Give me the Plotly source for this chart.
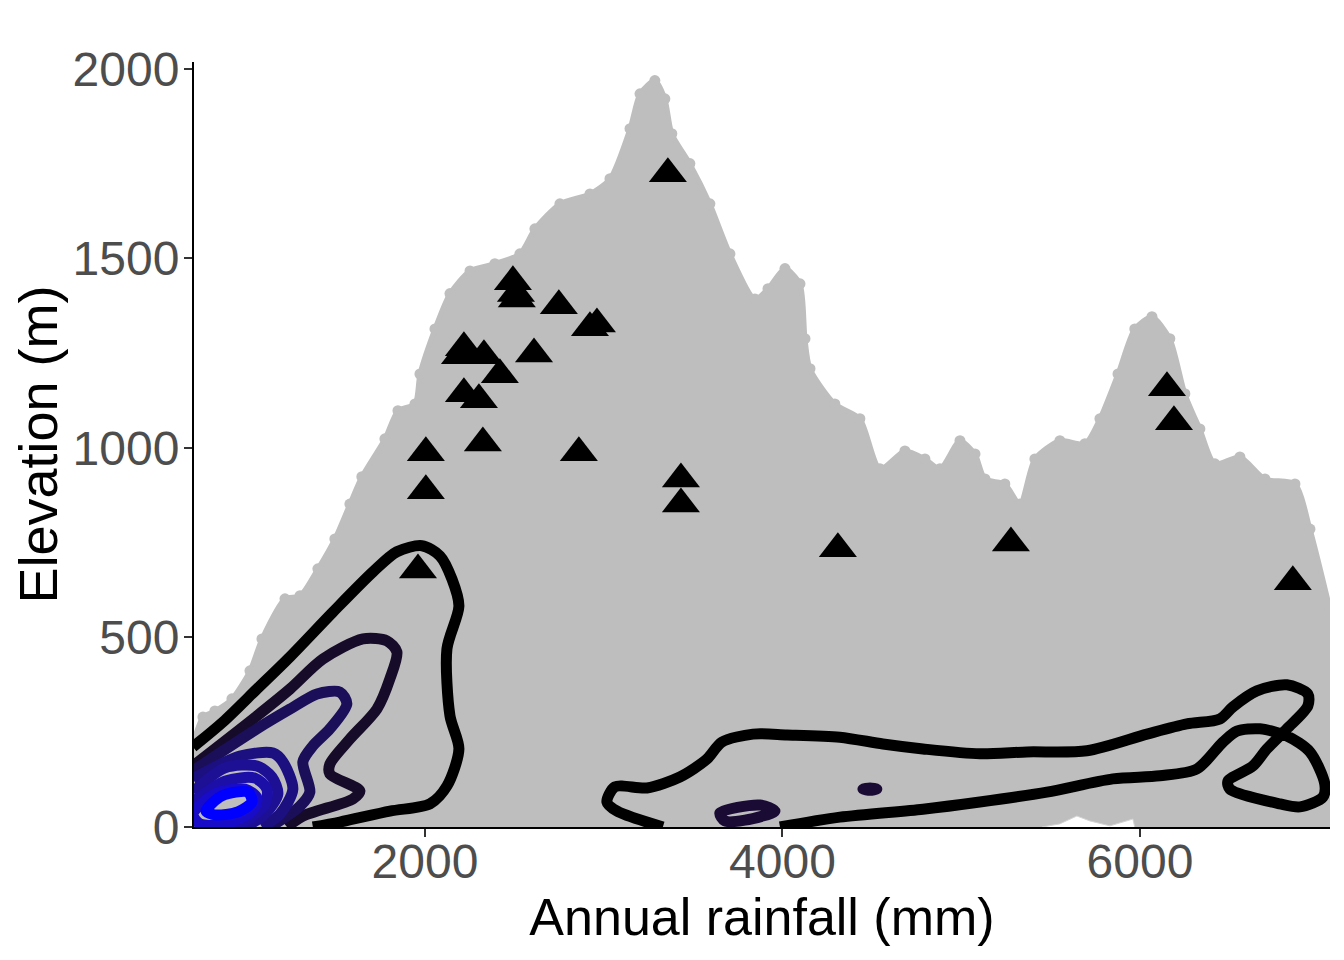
import plotly.graph_objects as go

# upper edge of the grey cloud of grid cells
cloud_rain = [702, 758, 825, 920, 1021, 1088, 1217, 1301, 1401, 1496, 1580, 1647, 1776, 1849, 1944, 1972, 2056, 2140, 2252, 2391, 2531, 2615, 2755, 2923, 3035, 3147, 3203, 3286, 3342, 3381, 3482, 3594, 3706, 3846, 3919, 4014, 4098, 4126, 4154, 4293, 4433, 4545, 4685, 4797, 4881, 4993, 5077, 5133, 5244, 5328, 5412, 5552, 5692, 5776, 5877, 5971, 6067, 6167, 6251, 6335, 6419, 6559, 6699, 6867, 6951, 7063]
cloud_elev = [219, 290, 306, 338, 412, 496, 602, 610, 681, 760, 852, 924, 1024, 1098, 1116, 1195, 1314, 1407, 1467, 1486, 1512, 1578, 1644, 1670, 1710, 1842, 1934, 1969, 1921, 1829, 1750, 1644, 1512, 1393, 1420, 1473, 1433, 1288, 1209, 1116, 1077, 945, 992, 971, 945, 1019, 984, 918, 905, 852, 971, 1019, 1011, 1077, 1195, 1314, 1346, 1288, 1143, 1050, 958, 976, 918, 905, 786, 575]

# little empty patch at the bottom of the cloud
gap_rain = [5451, 5550, 5647, 5720, 5832, 5960, 5971]
gap_elev = [0, 8, 29, 16, 3, 21, 0]

# sites
site_rain = [3359, 2492, 2509, 2514, 2749, 2923, 2962, 2196, 2218, 2330, 2610, 2419, 2218, 2302, 2324, 2005, 2861, 2005, 3432, 3432, 4310, 5278, 6855, 6151, 6190, 1961]
site_elev = [1723, 1438, 1407, 1393, 1375, 1317, 1327, 1243, 1264, 1243, 1248, 1193, 1143, 1127, 1013, 987, 987, 887, 918, 852, 734, 749, 647, 1159, 1069, 678]

# density contours, outer to inner
c1_rain = [702, 870, 1060, 1245, 1485, 1709, 1843, 1983, 2084, 2151, 2190, 2123, 2140, 2190, 2123, 2028, 1804, 1524, 1373]
c1_elev = [211, 277, 364, 449, 567, 673, 726, 742, 715, 654, 583, 470, 293, 206, 108, 61, 42, 13, 0]
c2_rain = [702, 1060, 1245, 1429, 1653, 1787, 1843, 1804, 1731, 1580, 1468, 1468, 1636, 1597, 1317, 1228]
c2_elev = [161, 293, 364, 443, 496, 491, 462, 391, 311, 232, 166, 140, 95, 74, 29, 0]
c3_rain = [702, 870, 1060, 1245, 1396, 1524, 1563, 1468, 1373, 1317, 1356, 1301, 1133]
c3_elev = [148, 201, 259, 311, 351, 356, 325, 259, 214, 172, 92, 55, 0]
c4_rain = [702, 965, 1150, 1205, 1261, 1189, 1088]
c4_elev = [127, 187, 195, 172, 100, 34, 0]
c5_rain = [702, 881, 1060, 1144, 1177, 1105, 993]
c5_elev = [92, 156, 161, 132, 87, 34, 0]
c6_rain = [702, 881, 1049, 1116, 1105, 993, 825]
c6_elev = [66, 121, 129, 100, 61, 16, 0]
c7_rain = [702, 825, 993, 1060, 1032, 881, 741, 702]
c7_elev = [34, 87, 100, 77, 42, 8, 8, 34]
c8_rain = [775, 864, 1010, 1032, 954, 825, 775]
c8_elev = [42, 82, 92, 66, 40, 32, 42]

wet_rain = [3331, 3074, 3018, 3063, 3242, 3426, 3577, 3661, 3835, 4025, 4321, 4562, 4786, 5104, 5367, 5703, 6039, 6262, 6447, 6520, 6654, 6822, 6939, 6939, 6822, 6710, 6632, 6492, 6503, 6783, 6895, 7023, 7034, 6951, 6822, 6671, 6542, 6464, 6318, 6111, 5848, 5479, 5104, 4786, 4321, 3986]
wet_elev = [0, 42, 66, 106, 103, 132, 179, 224, 245, 243, 237, 219, 206, 193, 198, 201, 245, 272, 285, 317, 359, 375, 351, 319, 259, 206, 161, 121, 100, 61, 53, 79, 113, 198, 240, 259, 253, 224, 153, 135, 127, 92, 66, 47, 26, 0]
blob1_rain = [3650, 3874, 3958, 3790, 3678, 3650]
blob1_elev = [37, 58, 42, 18, 16, 37]
blob2_rain = [4450, 4490, 4528, 4490, 4450]
blob2_elev = [100, 103, 100, 97, 100]

grey = '#BEBEBE'

fig = go.Figure()
fig.add_trace(go.Scatter(x=cloud_rain, y=cloud_elev, mode='lines+markers', fill='tozeroy', fillcolor=grey,
                         line=dict(color=grey, width=5, shape='spline', smoothing=0.7),
                         marker=dict(color=grey, size=11)))
fig.add_trace(go.Scatter(x=gap_rain, y=gap_elev, mode='lines', fill='toself', fillcolor='white',
                         line=dict(color='#D4D4D4', width=1)))
fig.add_trace(go.Scatter(x=site_rain, y=site_elev, mode='markers',
                         marker=dict(symbol='triangle-up', size=33, color='black')))

contours = [
    (c1_rain, c1_elev, '#000000'),
    (wet_rain, wet_elev, '#000000'),
    (c2_rain, c2_elev, '#160B28'),
    (blob1_rain, blob1_elev, '#1A0B35'),
    (blob2_rain, blob2_elev, '#1A0B35'),
    (c3_rain, c3_elev, '#1A0F58'),
    (c4_rain, c4_elev, '#1C1080'),
    (c5_rain, c5_elev, '#1D1094'),
    (c6_rain, c6_elev, '#1C0FA8'),
    (c7_rain, c7_elev, '#180CC8'),
    (c8_rain, c8_elev, '#0000FF'),
]
for cx, cy, col in contours:
    fig.add_trace(go.Scatter(x=cx, y=cy, mode='lines',
                             line=dict(color=col, width=11, shape='spline', smoothing=0.8)))

# the page body keeps its default 8px margin, so the figure starts at 8,8
fig.update_layout(
    width=1336,
    height=952,
    margin=dict(l=186, r=14, t=54, b=133),
    paper_bgcolor='white',
    plot_bgcolor='white',
    showlegend=False,
    font=dict(family='Liberation Sans'),
    xaxis=dict(range=[708, 7063], tickvals=[2000, 4000, 6000], ticks='outside', ticklen=8, tickwidth=2,
               tickcolor='#333333', tickfont=dict(size=48, color='#4D4D4D'), showgrid=False, zeroline=False,
               showline=True, linecolor='black', linewidth=2, ticklabelstandoff=-17,
               title=dict(text='Annual rainfall (mm)', font=dict(size=52, color='black'), standoff=8)),
    yaxis=dict(range=[0, 2018], tickvals=[0, 500, 1000, 1500, 2000], ticks='outside', ticklen=8, tickwidth=2,
               tickcolor='#333333', tickfont=dict(size=48, color='#4D4D4D'), showgrid=False, zeroline=False,
               showline=True, linecolor='black', linewidth=2, ticklabelstandoff=-5,
               title=dict(text='Elevation (m)', font=dict(size=54, color='black'), standoff=8)),
)

fig.write_html("out.html")
